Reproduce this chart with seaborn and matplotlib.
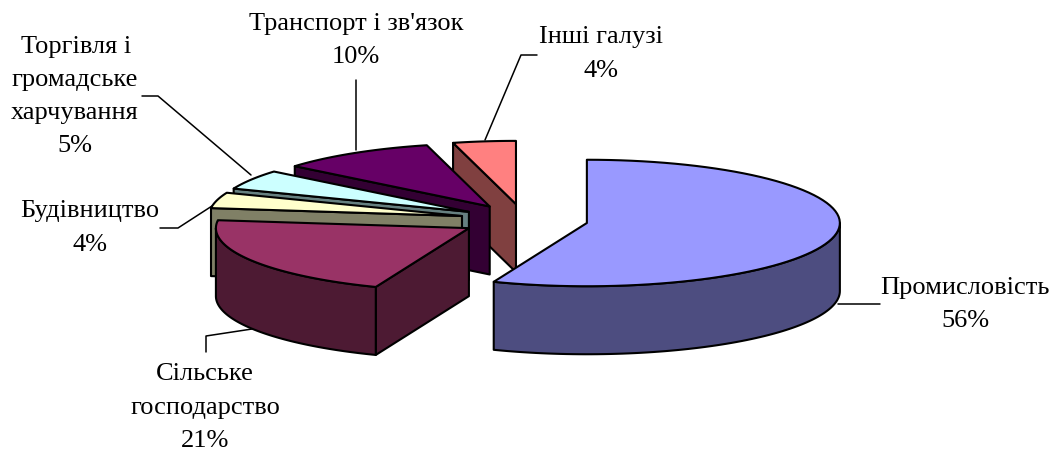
import numpy as np
import matplotlib
matplotlib.use('Agg')
import matplotlib.pyplot as plt
import seaborn as sns

# data
sectors = ['Промисловість', 'Сільське господарство', 'Будівництво',
           'Торгівля і громадське харчування', "Транспорт і зв'язок", 'Інші галузі']
shares = [56, 21, 4, 5, 10, 4]
colors = ['#9999FF', '#993366', '#FFFFCC', '#CCFFFF', '#660066', '#FF8080']

# label lines, per sector
label_lines = [
    ['Промисловість', '56%'],
    ['Сільське', 'господарство', '21%'],
    ['Будівництво', '4%'],
    ['Торгівля і', 'громадське', 'харчування', '5%'],
    ["Транспорт і зв'язок", '10%'],
    ['Інші галузі', '4%'],
]

# layout, in pixels
W, H = 1057, 450
CX, CY = 524, 220
RX = 253
SQUASH = 0.25
EXPLODE = 64
DEPTH = 68
EDGE = 1.5

label_pos = [
    [(965, 288), (965, 321)],
    [(205, 374), (205, 408), (205, 441)],
    [(90, 211), (90, 245)],
    [(76, 47), (75, 80), (75, 113), (75, 146)],
    [(356, 24), (356, 57)],
    [(601, 37), (601, 71)],
]
leaders = [
    [(838, 304), (880, 304)],
    [(252, 329), (206, 336), (206, 352)],
    [(212, 206), (178, 228), (160, 228)],
    [(251, 175), (158, 96), (142, 96)],
    [(356, 150), (356, 80)],
    [(485, 140), (521, 55), (537, 55)],
]

sns.set_theme(style='white')
plt.rcParams['font.family'] = ['Liberation Serif', 'DejaVu Sans']

fig, ax = plt.subplots(figsize=(W / 100, H / 100), dpi=100)
ax.set_position([0, 0, 1, 1])
ax.set_xlim(0, W)
ax.set_ylim(H, 0)
ax.axis('off')

palette = sns.color_palette(colors)


def rim(apex, a0, a1):
    # points on the top ellipse, angles clockwise from 12 o'clock
    t = np.radians(np.linspace(a0, a1, 80))
    return np.column_stack([apex[0] + RX * np.sin(t),
                            apex[1] - RX * SQUASH * np.cos(t)])


def face(ax, pts, color):
    pts = np.asarray(pts)
    side = np.vstack([pts, (pts + [0, DEPTH])[::-1]])
    ax.fill(side[:, 0], side[:, 1], facecolor=color, edgecolor='black',
            linewidth=EDGE, joinstyle='round')


edges = np.cumsum([0] + shares) / sum(shares) * 360
wedges = []
for i, share in enumerate(shares):
    a0, a1 = edges[i], edges[i + 1]
    mid = np.radians((a0 + a1) / 2)
    apex = (CX + EXPLODE * np.sin(mid),
            CY - EXPLODE * SQUASH * np.cos(mid))
    wedges.append((a0, a1, apex, palette[i]))

# back to front, the first slice sits in front of everything
for a0, a1, apex, color in wedges[::-1]:
    dark = tuple(np.array(color) * 0.5)
    # cut face on the start side shows only when it looks at the viewer
    if 180 < a0 < 360:
        face(ax, [apex, rim(apex, a0, a0)[0]], dark)
    lo, hi = max(a0, 90), min(a1, 270)
    if lo < hi:
        face(ax, rim(apex, lo, hi), dark)
    top = np.vstack([[apex], rim(apex, a0, a1)])
    ax.fill(top[:, 0], top[:, 1], facecolor=color, edgecolor='black',
            linewidth=EDGE, joinstyle='round')

for path in leaders:
    xs, ys = zip(*path)
    sns.lineplot(x=list(xs), y=list(ys), sort=False, estimator=None, ax=ax,
                 color='black', linewidth=1.1)

for lines, positions in zip(label_lines, label_pos):
    for line, (x, y) in zip(lines, positions):
        ax.text(x, y, line, ha='center', va='center', fontsize=19, color='black')

ax.set_xlim(0, W)
ax.set_ylim(H, 0)
fig.savefig('out.png', dpi=100, facecolor='white')
